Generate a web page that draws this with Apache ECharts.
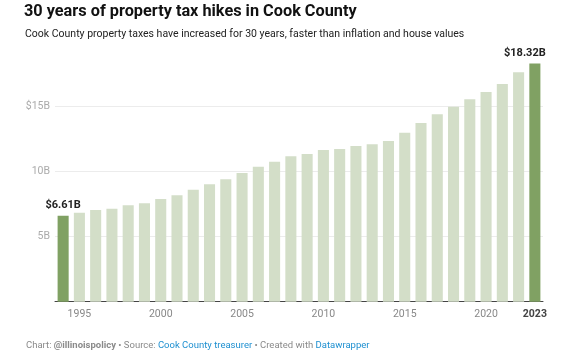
<!DOCTYPE html>
<html>
<head>
<meta charset="utf-8">
<script src="https://cdn.jsdelivr.net/npm/echarts@6/dist/echarts.min.js"></script>
<style>
html,body{margin:0;padding:0;background:#fff;}
#c{width:563px;height:360px;}
</style>
</head>
<body>
<div id="c"></div>
<script>
const years = ['1994','1995','1996','1997','1998','1999','2000','2001','2002','2003','2004','2005','2006','2007','2008','2009','2010','2011','2012','2013','2014','2015','2016','2017','2018','2019','2020','2021','2022','2023'];
const values = [6.61,6.85,7.05,7.15,7.41,7.57,7.90,8.18,8.62,9.03,9.41,9.90,10.38,10.77,11.18,11.36,11.67,11.75,11.98,12.11,12.36,13.0,13.75,14.41,15.0,15.57,16.13,16.75,17.65,18.32];
const yTicks = {5:'5B',10:'10B',15:'$15B'};
const shownYears = ['1995','2000','2005','2010','2015','2020','2023'];

const light = '#d3dec8', dark = '#80a163';
const data = values.map((v,i)=>{
  const first = i===0, last = i===values.length-1;
  const item = {value:v, itemStyle:{color:(first||last)?dark:light}};
  if(first||last){
    item.label = {show:true, position:'top', distance:5, formatter:'$'+v.toFixed(2)+'B',
      fontFamily:'Roboto', fontWeight:'bold', fontSize:11, color:'#222', offset: last?[-10,0]:[0,0]};
  }
  return item;
});

const chart = echarts.init(document.getElementById('c'));
chart.setOption({
  animation:false,
  title:[
    {text:'30 years of property tax hikes in Cook County', left:19, top:-1,
     textStyle:{fontFamily:'Roboto', fontWeight:'bold', fontSize:16.3, color:'#111'}},
    {text:'Cook County property taxes have increased for 30 years, faster than inflation and house values', left:20, top:24,
     textStyle:{fontFamily:'Roboto', fontWeight:'normal', fontSize:10.5, color:'#222'}},
    {text:'{g|Chart: }{b|@illinoispolicy}{g| • Source: }{l|Cook County treasurer}{g| • Created with }{l|Datawrapper}', left:21, top:336,
     textStyle:{rich:{
       g:{fontFamily:'Roboto', fontSize:9.5, color:'#8a8a8a', fontWeight:'normal'},
       b:{fontFamily:'Roboto', fontSize:9.5, color:'#8a8a8a', fontWeight:'bold'},
       l:{fontFamily:'Roboto', fontSize:9.5, color:'#1d8fd0', fontWeight:'normal'}
     }}}
  ],
  grid:{left:55, right:20, top:41.7, bottom:58.3},
  xAxis:{type:'category', data:years,
    axisTick:{show:false},
    axisLine:{lineStyle:{color:'#444', width:1}},
    axisLabel:{interval:(i,v)=>shownYears.includes(v), margin:7,
      formatter:v=> v==='2023' ? '{b|'+v+'}' : v,
      fontFamily:'Roboto', fontSize:10.5, color:'#888',
      rich:{b:{fontFamily:'Roboto', fontSize:10.5, fontWeight:'bold', color:'#444'}}}
  },
  yAxis:{type:'value', min:0, max:20, interval:5,
    axisLine:{show:false}, axisTick:{show:false},
    axisLabel:{formatter:v=>yTicks[v]||'', fontFamily:'Roboto', fontSize:10.5, color:'#aaa', margin:5},
    splitLine:{lineStyle:{color:['transparent','#ececec','#ececec','#ececec','transparent'], width:1}}
  },
  series:[{type:'bar', data:data, barCategoryGap:'32%', label:{show:false}}]
});
</script>
</body>
</html>
